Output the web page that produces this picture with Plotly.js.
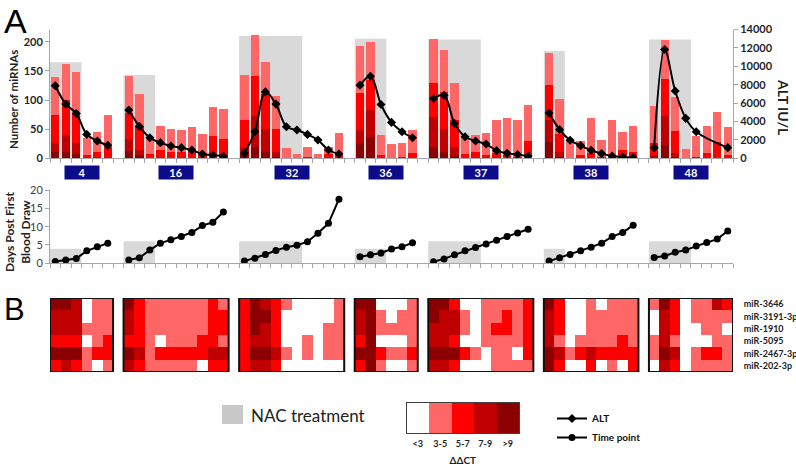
<!DOCTYPE html>
<html><head><meta charset="utf-8">
<script src="https://cdn.plot.ly/plotly-3.0.1.min.js"></script>
<style>html,body{margin:0;padding:0;background:#fff}#chart{width:796px;height:468px}</style>
</head><body><div id="chart"></div>
<script>
// ---------------- DATA ----------------
const patients = ['4','16','32','36','37','38','48'];
// number of miRNAs per time point, split by ΔΔCT class
const over9 = [[11,10,8,0,0,0],[12,5,0,0,0,0,0,0,0,0],[5,20,11,2,0,0,0,0,0,0],[26,37,0,0,0,0],[19,11,5,0,0,0,0,0,0,0],[28,3,0,0,0,0,0,0,0],[0,22,2,0,0,0,0,0]];
const ct7to9 = [[15,30,19,0,0,0],[21,9,0,0,0,0,0,0,0,0],[15,53,40,8,0,0,0,0,0,0],[23,46,0,0,0,0],[52,40,15,0,0,0,0,0,0,0],[37,8,0,0,0,0,0,0,0],[5,50,7,0,0,0,0,0]];
const ct5to7 = [[49,60,51,6,11,20],[45,41,8,15,10,10,13,5,38,33],[46,68,60,41,0,0,3,0,8,7],[63,51,6,1,2,9],[58,63,46,7,11,6,9,6,3,30],[60,31,0,5,9,2,5,14,10],[22,64,37,1,2,9,28,6]];
const ct3to5 = [[65,62,70,28,34,55],[64,56,27,41,41,39,41,37,50,51],[77,70,54,56,18,7,16,7,12,37],[81,66,34,23,24,40],[75,71,63,30,29,38,57,64,62,61],[56,59,32,25,60,29,60,31,46],[62,67,59,15,36,47,51,47]];
// ALT IU/L (null = not measured)
const alt = [[7880,5890,4870,2600,1880,1410],[5240,3470,2240,1700,1340,1160,900,470,360,220],[540,2890,7220,5890,3430,3070,2600,1990,900,470],[7950,8920,5850,3900,2890,2240],[6500,6860,3790,2350,1880,1550,830,540,400,250],[4930,3115,1960,1380,870,510,250,145,70],[1160,11830,7310,4340,2890,null,null,1160]];
// days post first blood draw
const days = [[0.5,0.9,1.3,3.4,4.5,5.5],[0.9,1.5,3.6,5.5,6.4,7.3,8.4,10.3,11.2,14.0],[0.6,1.4,2.4,3.5,4.4,4.9,5.9,8.2,10.9,17.5],[1.8,2.3,2.8,3.9,4.5,5.6],[0.4,1.2,2.3,3.4,4.3,5.3,6.3,7.3,8.3,9.3],[0.6,1.5,2.4,3.4,4.4,5.5,7.3,8.4,10.4],[1.6,2.0,3.0,3.6,4.7,5.7,6.6,8.8]];
// NAC treatment: number of time points, box height in top and days panels
const nacLen = [3,3,6,3,5,2,4];
const nacTop = [165,143,210,205,204,184,204];
const nacDays = [4,6,6,4,6,4,6];
// heatmap ΔΔCT class (0:<3, 1:3-5, 2:5-7, 3:7-9, 4:>9), rows = miRNAs
const mirnas = ['miR-3646','miR-3191-3p','miR-1910','miR-5095','miR-2467-3p','miR-202-3p'];
const heat4 = [[4,4,3,0,1,1],[3,3,3,0,1,1],[3,3,3,1,1,1],[2,2,2,0,1,2],[4,4,4,1,2,2],[2,3,2,1,0,1]];
const heat16 = [[4,2,1,1,1,1,1,1,2,1],[3,2,1,1,1,1,1,1,2,2],[3,2,1,1,1,1,1,1,2,2],[2,2,1,0,1,1,1,2,2,1],[4,3,1,2,2,2,2,2,3,3],[3,2,1,1,1,1,1,0,2,2]];
const heat32 = [[2,4,3,2,1,0,0,0,0,1],[2,4,4,2,0,0,0,0,0,1],[2,4,3,2,0,0,0,0,1,1],[2,3,3,2,0,0,1,0,1,1],[2,4,4,3,1,0,1,0,1,1],[2,3,3,2,0,0,0,0,0,0]];
const heat36 = [[4,4,0,0,0,1],[3,4,1,0,1,1],[3,4,1,1,1,1],[2,4,0,0,0,1],[4,4,2,1,1,2],[2,4,1,0,0,1]];
const heat37 = [[4,4,2,0,0,1,1,1,1,2],[4,3,3,1,0,1,1,2,1,2],[3,3,3,1,0,1,2,2,1,2],[3,3,2,0,0,1,1,1,1,2],[4,4,4,2,1,0,1,1,0,2],[3,3,2,0,0,0,1,1,1,1]];
const heat38 = [[4,2,0,0,1,0,1,1,1],[3,2,0,0,1,1,1,1,1],[3,2,0,0,1,1,1,1,1],[3,1,0,1,1,1,1,2,1],[4,3,1,2,3,2,2,2,2],[4,2,0,0,2,0,1,0,2]];
const heat48 = [[1,4,2,0,1,1,3,2],[0,3,2,0,1,1,1,1],[0,3,2,0,0,1,1,0],[1,3,1,0,0,0,1,1],[1,4,3,0,1,2,2,1],[0,3,2,0,1,1,1,1]];
const classLabels = ['<3','3-5','5-7','7-9','>9'];

// ---------------- LAYOUT HELPERS ----------------
const W=796, H=468, L=50, R=63;
const py = y => 1 - y/H;
const pxx = x => (x-L)/(W-L-R);
const heat = [heat4,heat16,heat32,heat36,heat37,heat38,heat48];
const classColors = ['#ffffff','#ff6666','#ff0000','#c00000','#8b0000'];
const colorscale = [];
classColors.forEach((c,i)=>{const a=Math.max(0,(i-0.5)/4), b=Math.min(1,(i+0.5)/4); colorscale.push([a,c]); colorscale.push([b,c]);});

const starts=[]; let cur=0;
patients.forEach((p,i)=>{starts.push(cur); cur += over9[i].length + 1;});
const nSlots = cur - 1;
const xr = [-0.5, nSlots - 0.5];

function flat(arr){const xs=[],ys=[];arr.forEach((a,i)=>a.forEach((v,j)=>{xs.push(starts[i]+j);ys.push(v);}));return {xs,ys};}

const FONT='Lato, "Open Sans", sans-serif';
const axLine='#a6a6a6';
const traces=[];
const segs=[[over9,classColors[4]],[ct7to9,classColors[3]],[ct5to7,classColors[2]],[ct3to5,classColors[1]]];
segs.forEach(([arr,col])=>{const f=flat(arr);traces.push({type:'bar',x:f.xs,y:f.ys,xaxis:'x',yaxis:'y',marker:{color:col,line:{width:0}},width:0.8,showlegend:false,hoverinfo:'skip'});});

patients.forEach((p,i)=>{
  const xs=[],ys=[];
  alt[i].forEach((v,j)=>{if(v!==null){xs.push(starts[i]+j);ys.push(v);}});
  traces.push({type:'scatter',mode:'lines+markers',x:xs,y:ys,xaxis:'x',yaxis:'y5',line:{color:'#000',width:2,shape:'spline',smoothing:1},marker:{symbol:'diamond',size:7,color:'#000'},name:'ALT',legendgroup:'alt',showlegend:i===0,hoverinfo:'skip'});
});
patients.forEach((p,i)=>{
  traces.push({type:'scatter',mode:'lines+markers',x:days[i].map((v,j)=>starts[i]+j),y:days[i],xaxis:'x2',yaxis:'y2',line:{color:'#000',width:2},marker:{symbol:'circle',size:7,color:'#000'},name:'Time point',legendgroup:'tp',showlegend:i===0,hoverinfo:'skip'});
});
// heatmap
const z=mirnas.map(()=>new Array(nSlots).fill(null));
heat.forEach((h,i)=>h.forEach((row,r)=>row.forEach((v,j)=>{z[r][starts[i]+j]=v;})));
traces.push({type:'heatmap',z:z,x:Array.from({length:nSlots},(_,k)=>k),y:mirnas.map((m,k)=>k),xaxis:'x3',yaxis:'y3',colorscale:colorscale,zmin:0,zmax:4,showscale:false,hoverinfo:'skip'});
// colour key
traces.push({type:'heatmap',z:[classLabels.map((c,k)=>k)],x:classLabels.map((c,k)=>k),y:[0],xaxis:'x4',yaxis:'y4',colorscale:colorscale,zmin:0,zmax:4,showscale:false,hoverinfo:'skip'});

const shapes=[], annotations=[];
patients.forEach((p,i)=>{
  shapes.push({type:'rect',xref:'x',yref:'y',x0:starts[i]-0.5,x1:starts[i]+nacLen[i]-0.5,y0:0,y1:nacTop[i],fillcolor:'#d9d9d9',line:{width:0},layer:'below'});
  shapes.push({type:'rect',xref:'x2',yref:'y2',x0:starts[i]-0.5,x1:starts[i]+nacLen[i]-0.5,y0:0,y1:nacDays[i],fillcolor:'#d9d9d9',line:{width:0},layer:'below'});
  const n=over9[i].length;
  shapes.push({type:'rect',xref:'x3',yref:'y3',x0:starts[i]-0.5,x1:starts[i]+n-0.5,y0:-0.5,y1:mirnas.length-0.5,fillcolor:'rgba(0,0,0,0)',line:{color:'#111',width:2}});
  annotations.push({xref:'x',yref:'paper',x:starts[i]+(n-1)/2,y:py(172.5),text:'<b>'+p+'</b>',showarrow:false,bgcolor:'#0c0c8a',width:34,height:13,borderpad:0,font:{family:FONT,size:11,color:'#fff'},xanchor:'center',yanchor:'middle'});
});
// NAC key
shapes.push({type:'rect',xref:'paper',yref:'paper',x0:pxx(222),x1:pxx(243),y0:py(424),y1:py(405),fillcolor:'#c8c8c8',line:{width:0}});
annotations.push({xref:'paper',yref:'paper',x:pxx(249),y:py(415),xanchor:'left',yanchor:'middle',text:'NAC treatment',showarrow:false,font:{family:FONT,size:17,color:'#222'}});
annotations.push({xref:'paper',yref:'paper',x:pxx(2),y:py(21),xanchor:'left',yanchor:'middle',text:'A',showarrow:false,font:{family:'Liberation Sans, Arial',size:34,color:'#000'}});
annotations.push({xref:'paper',yref:'paper',x:pxx(2),y:py(309),xanchor:'left',yanchor:'middle',text:'B',showarrow:false,font:{family:'Liberation Sans, Arial',size:31,color:'#000'}});
annotations.push({xref:'paper',yref:'paper',x:pxx(13),y:py(100),xanchor:'center',yanchor:'middle',textangle:-90,text:'<b>Number of miRNAs</b>',showarrow:false,font:{family:FONT,size:11.5,color:'#222'}});
annotations.push({xref:'paper',yref:'paper',x:pxx(783),y:py(107),xanchor:'center',yanchor:'middle',textangle:90,text:'<b>ALT IU/L</b>',showarrow:false,font:{family:FONT,size:14,color:'#222'}});
annotations.push({xref:'paper',yref:'paper',x:pxx(17),y:py(232),xanchor:'center',yanchor:'middle',textangle:-90,text:'<b>Days Post First<br>Blood Draw</b>',showarrow:false,font:{family:FONT,size:12,color:'#222'}});

const xbase={range:xr,showline:true,linecolor:axLine,linewidth:1,ticks:'outside',ticklen:4,tickcolor:axLine,tick0:-0.5,dtick:1,showticklabels:false,showgrid:false,zeroline:false,fixedrange:true};
const boldTick={family:FONT,size:11,weight:'bold',color:'#262626'};
const layout={
  width:W,height:H,margin:{l:L,r:R,t:0,b:0},paper_bgcolor:'#fff',plot_bgcolor:'rgba(0,0,0,0)',
  barmode:'stack',bargap:0.2,showlegend:true,font:{family:FONT},
  xaxis:Object.assign({},xbase,{domain:[0,1],anchor:'y'}),
  yaxis:{domain:[py(158.3),py(29.5)],range:[0,221],tickvals:[0,50,100,150,200],showline:true,linecolor:axLine,ticks:'outside',ticklen:4,tickcolor:axLine,tickfont:boldTick,showgrid:false,zeroline:false,anchor:'x'},
  yaxis5:{overlaying:'y',side:'right',anchor:'x',range:[0,14000],dtick:2000,tickformat:'d',showline:true,linecolor:axLine,ticks:'outside',ticklen:4,tickcolor:axLine,tickfont:boldTick,showgrid:false,zeroline:false},
  xaxis2:Object.assign({},xbase,{domain:[0,1],anchor:'y2'}),
  yaxis2:{domain:[py(263.3),py(190)],range:[0,20],dtick:5,showline:true,linecolor:axLine,ticks:'outside',ticklen:4,tickcolor:axLine,tickfont:{family:FONT,size:11,color:'#404040'},showgrid:false,zeroline:false,anchor:'x2'},
  xaxis3:{domain:[0,1],range:xr,anchor:'y3',visible:false,fixedrange:true},
  yaxis3:{domain:[py(372),py(298)],range:[mirnas.length-0.5,-0.5],anchor:'x3',side:'right',tickvals:mirnas.map((m,k)=>k),ticktext:mirnas,ticks:'outside',ticklen:8,tickcolor:'rgba(0,0,0,0)',tickfont:{family:FONT,size:9,weight:'bold',color:'#222'},showline:false,showgrid:false,zeroline:false},
  xaxis4:{domain:[pxx(406.5),pxx(519)],range:[-0.5,4.5],anchor:'y4',tickvals:classLabels.map((c,k)=>k),ticktext:classLabels,ticks:'',ticklabelstandoff:2,tickfont:{family:FONT,size:9,weight:'bold',color:'#222'},showline:true,mirror:true,linecolor:'#404040',linewidth:1,showgrid:false,zeroline:false,title:{text:'<b>ΔΔCT</b>',font:{family:FONT,size:10,color:'#222'},standoff:9}},
  yaxis4:{domain:[py(433),py(403)],range:[-0.5,0.5],anchor:'x4',showticklabels:false,ticks:'',showline:true,mirror:true,linecolor:'#404040',linewidth:1,showgrid:false,zeroline:false},
  legend:{x:pxx(552),y:py(404),xanchor:'left',yanchor:'top',font:{family:FONT,size:10,weight:'bold',color:'#111'},bgcolor:'rgba(0,0,0,0)',tracegroupgap:0,itemwidth:30},
  shapes:shapes,annotations:annotations
};
Plotly.newPlot('chart',traces,layout,{staticPlot:true,displayModeBar:false});
</script></body></html>
